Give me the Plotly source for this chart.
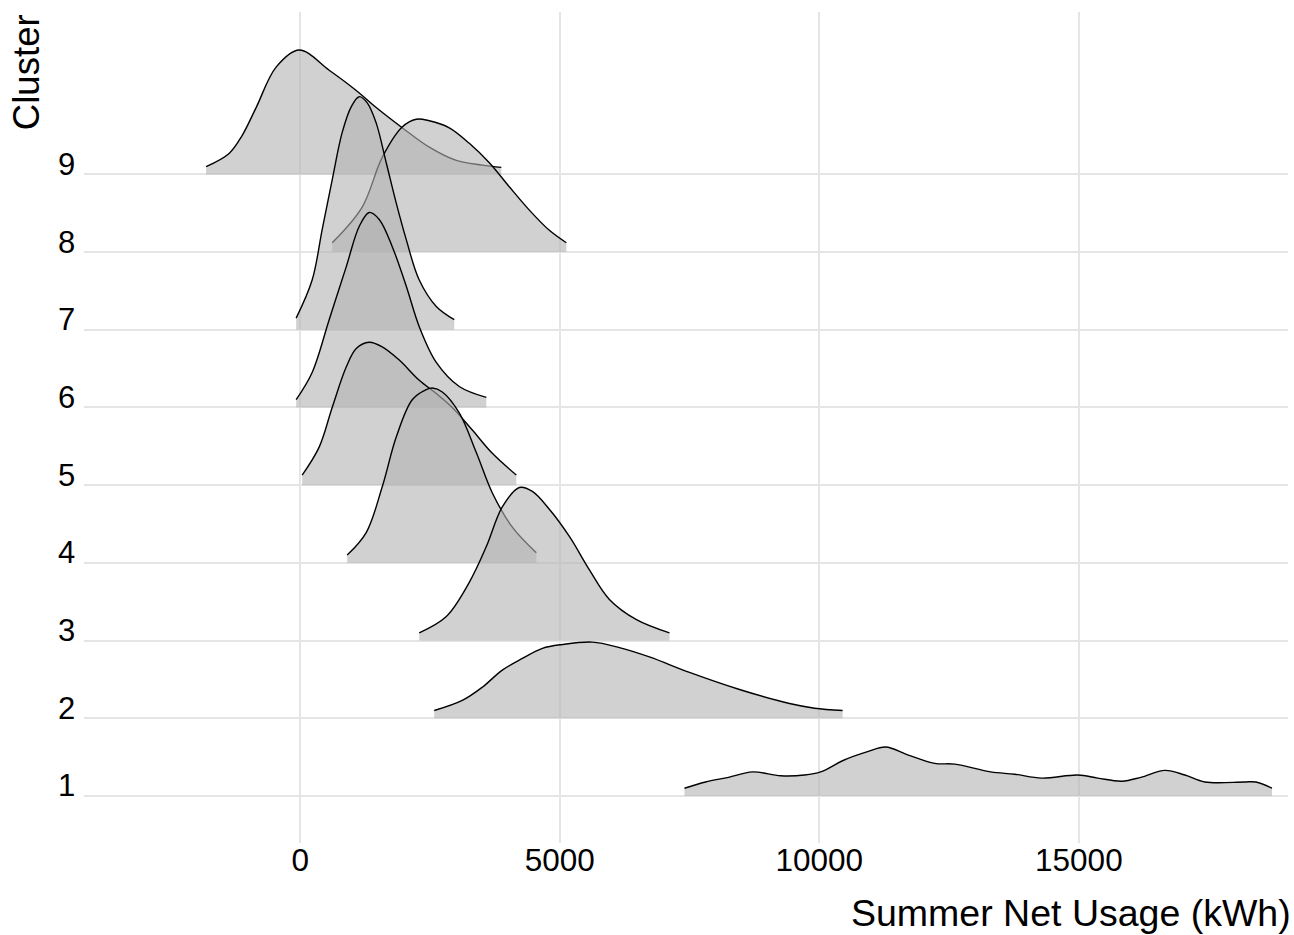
import plotly.graph_objects as go

# ---- data (x in kWh, ridge height in cluster-spacing units) ----
clusters = [1, 2, 3, 4, 5, 6, 7, 8, 9]
tick_labels = ["1", "2", "3", "4", "5", "6", "7", "8", "9"]

x_c1 = [7403, 7808, 8251, 8714, 9254, 9717, 10025, 10469, 10931, 11278, 11702, 12223, 12609,
        13303, 13765, 14286, 14980, 15365, 15828, 16194, 16657, 17043, 17428, 18180, 18411, 18720]
h_c1 = [0.10, 0.18, 0.24, 0.31, 0.26, 0.27, 0.31, 0.46, 0.57, 0.63, 0.53, 0.42, 0.41,
        0.31, 0.28, 0.23, 0.27, 0.23, 0.19, 0.24, 0.33, 0.27, 0.18, 0.18, 0.18, 0.10]

x_c2 = [2583, 3123, 3509, 3894, 4280, 4666, 5051, 5630, 6150, 6728, 7500, 8463, 9427, 9910, 10449]
h_c2 = [0.10, 0.23, 0.40, 0.62, 0.77, 0.90, 0.95, 0.98, 0.91, 0.79, 0.59, 0.37, 0.19, 0.13, 0.10]

x_c3 = [2294, 2815, 3258, 3586, 3894, 4222, 4473, 4800, 5186, 5572, 5957, 6478, 7114]
h_c3 = [0.10, 0.31, 0.75, 1.21, 1.72, 1.97, 1.92, 1.69, 1.34, 0.91, 0.53, 0.27, 0.10]

x_c4 = [906, 1272, 1581, 1851, 2159, 2429, 2545, 2738, 3065, 3393, 3702, 4087, 4550]
h_c4 = [0.10, 0.39, 0.98, 1.62, 2.10, 2.23, 2.25, 2.20, 1.93, 1.42, 0.90, 0.46, 0.13]

x_c5 = [39, 366, 617, 887, 1080, 1330, 1581, 1909, 2294, 2622, 2930, 3316, 3702, 4164]
h_c5 = [0.13, 0.49, 1.00, 1.52, 1.76, 1.84, 1.78, 1.61, 1.35, 1.18, 1.00, 0.71, 0.41, 0.13]

x_c6 = [-77, 231, 559, 887, 1137, 1330, 1523, 1774, 2044, 2294, 2622, 3065, 3586]
h_c6 = [0.10, 0.45, 1.13, 1.81, 2.33, 2.51, 2.42, 2.07, 1.56, 1.04, 0.58, 0.27, 0.13]

x_c7 = [-77, 231, 424, 617, 810, 983, 1137, 1292, 1465, 1658, 1851, 2044, 2294, 2622, 2969]
h_c7 = [0.15, 0.64, 1.29, 1.93, 2.54, 2.87, 3.00, 2.92, 2.66, 2.15, 1.63, 1.16, 0.64, 0.30, 0.13]

x_c8 = [617, 1195, 1581, 1966, 2236, 2487, 2873, 3258, 3644, 4029, 4415, 4800, 5128]
h_c8 = [0.12, 0.58, 1.22, 1.61, 1.71, 1.69, 1.60, 1.40, 1.15, 0.84, 0.54, 0.28, 0.12]

x_c9 = [-1812, -1369, -1118, -848, -463, -19, 559, 1080, 1465, 1966, 2487, 3008, 3509, 3875]
h_c9 = [0.10, 0.27, 0.50, 0.86, 1.38, 1.60, 1.34, 1.08, 0.86, 0.60, 0.35, 0.18, 0.12, 0.09]

x_ticks = [0, 5000, 10000, 15000]
x_tick_labels = ["0", "5000", "10000", "15000"]

ridges = {1: (x_c1, h_c1), 2: (x_c2, h_c2), 3: (x_c3, h_c3), 4: (x_c4, h_c4), 5: (x_c5, h_c5),
          6: (x_c6, h_c6), 7: (x_c7, h_c7), 8: (x_c8, h_c8), 9: (x_c9, h_c9)}

FONT = "Liberation Sans, Arial, sans-serif"
FILL = "rgba(179,179,179,0.6)"

fig = go.Figure()
for k in sorted(clusters, reverse=True):
    xs, hs = ridges[k]
    fig.add_trace(go.Scatter(x=[xs[0], xs[-1]], y=[k, k], mode="lines",
                             line=dict(width=0, color="rgba(0,0,0,0)"),
                             hoverinfo="skip", showlegend=False))
    fig.add_trace(go.Scatter(x=xs, y=[k + h for h in hs], mode="lines",
                             line=dict(color="black", width=1.4, shape="spline", smoothing=1),
                             fill="tonexty", fillcolor=FILL,
                             hoverinfo="skip", showlegend=False))

# cluster labels sit just above each baseline (ggridges style)
label_annots = [dict(text=lab, xref="paper", yref="y", x=0, y=k, xanchor="right",
                     yanchor="middle", xshift=-7, yshift=10, showarrow=False,
                     font=dict(size=31, color="black", family=FONT))
                for k, lab in zip(clusters, tick_labels)]

fig.update_layout(
    width=1294, height=935,
    margin=dict(l=84, r=6, t=12, b=92),
    paper_bgcolor="white", plot_bgcolor="white",
    font=dict(family=FONT, color="black"),
    xaxis=dict(range=[-4164, 19029], tickvals=x_ticks, ticktext=x_tick_labels,
               showgrid=True, gridcolor="#e5e5e5", gridwidth=2, zeroline=False,
               showline=False, ticks="", tickfont=dict(size=31.5, color="black"),
               ticklabelstandoff=-5),
    yaxis=dict(range=[0.395, 11.09], tickvals=clusters, showticklabels=False,
               showgrid=True, gridcolor="#e5e5e5", gridwidth=2, zeroline=False,
               showline=False, ticks=""),
    annotations=label_annots + [
        dict(text="Summer Net Usage (kWh)", xref="paper", yref="paper", x=1.0, y=-0.0842,
             xanchor="right", yanchor="middle", xshift=5, showarrow=False,
             font=dict(size=37.5, color="black", family=FONT)),
        dict(text="Cluster", xref="paper", yref="paper", x=-0.048, y=1.0, textangle=-90,
             xanchor="center", yanchor="top", showarrow=False,
             font=dict(size=36.6, color="black", family=FONT)),
    ],
)

fig.write_html("out.html")
